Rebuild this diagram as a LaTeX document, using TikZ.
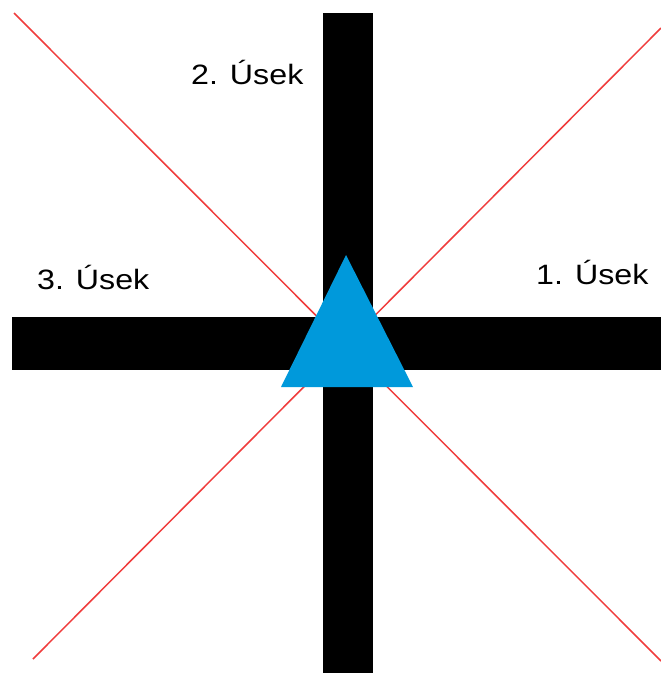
\documentclass[tikz,border=0pt]{standalone}
\usepackage{fontspec}
\setmainfont{Liberation Sans}
\definecolor{redline}{RGB}{240,60,60}
\definecolor{triblue}{RGB}{0,153,219}
\tikzset{
  redl/.style={draw=redline, line width=1.5pt},
  bar/.style={fill=black},
  label/.style={anchor=base west, inner sep=0pt, font=\fontsize{28}{30}\selectfont, xscale=1.15}
}
\begin{document}
\begin{tikzpicture}[x=1pt,y=-1pt]
\useasboundingbox[fill=white] (0,0) rectangle (661,673);
% diagonals
\coordinate (tl) at (14,13);
\coordinate (br) at (661,661);
\coordinate (tr) at (661,28);
\coordinate (bl) at (33,659);
\draw[redl] (tl) -- (br);
\draw[redl] (tr) -- (bl);
% bars
\fill[bar] (323,13) rectangle (373,673);
\fill[bar] (12,317) rectangle (661,370);
% triangle
\coordinate (apex) at (346,255);
\coordinate (bleft) at (281,387);
\coordinate (bright) at (413,387);
\fill[triblue] (apex) -- (bright) -- (bleft) -- cycle;
% labels
\node[label] (s2) at (191,84) {2. Úsek};
\node[label] (s3) at (37,289) {3. Úsek};
\node[label] (s1) at (536,284) {1. Úsek};
\end{tikzpicture}
\end{document}
